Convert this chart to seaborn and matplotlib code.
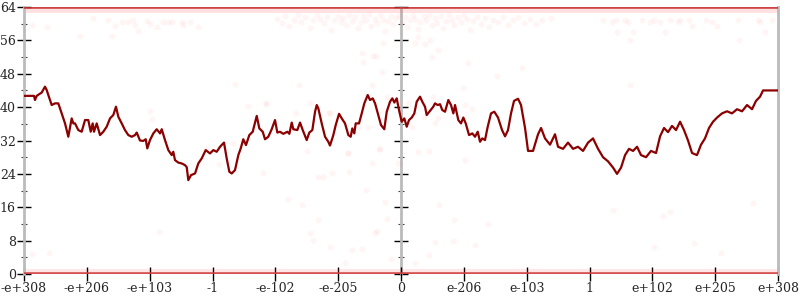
import matplotlib
matplotlib.use("Agg")
import matplotlib.pyplot as plt
import seaborn as sns
import pandas as pd
import numpy as np

sns.set_theme(style="white")
plt.rcParams["font.family"] = ["DejaVu Serif"]

# ---------------- data ----------------
tick_labels = ["-e+308", "-e+206", "-e+103", "-1", "-e-102", "-e-205", "0",
               "e-206", "e-103", "1", "e+102", "e+205", "e+308"]
y_major = [0, 8, 16, 24, 32, 40, 48, 56, 64]
y_minor = [4, 12, 20, 28, 36, 44, 52, 60]

line_x = [0.0, 0.159, 0.175, 0.202, 0.282, 0.334, 0.361, 0.387, 0.441, 0.493, 0.546, 0.600,
          0.653, 0.705, 0.759, 0.785, 0.812, 0.864, 0.918, 0.971, 1.023, 1.062, 1.093, 1.114,
          1.157, 1.210, 1.262, 1.316, 1.369, 1.421, 1.464, 1.501, 1.555, 1.607, 1.660, 1.714,
          1.767, 1.794, 1.846, 1.899, 1.937, 1.962, 2.005, 2.058, 2.112, 2.165, 2.192, 2.244,
          2.297, 2.351, 2.376, 2.403, 2.456, 2.510, 2.562, 2.590, 2.615, 2.658, 2.722, 2.774,
          2.828, 2.892, 2.960, 3.013, 3.067, 3.120, 3.183, 3.226, 3.268, 3.306, 3.358, 3.411,
          3.449, 3.490, 3.533, 3.586, 3.640, 3.704, 3.745, 3.799, 3.836, 3.888, 3.942, 3.995,
          4.032, 4.074, 4.127, 4.191, 4.223, 4.261, 4.286, 4.350, 4.393, 4.436, 4.499, 4.541,
          4.589, 4.632, 4.659, 4.684, 4.738, 4.791, 4.843, 4.870, 4.923, 4.961, 5.014, 5.057,
          5.109, 5.162, 5.200, 5.225, 5.257, 5.279, 5.332, 5.375, 5.416, 5.470, 5.507, 5.550,
          5.587, 5.639, 5.682, 5.734, 5.773, 5.825, 5.862, 5.894, 5.932, 5.968, 6.011, 6.053,
          6.091, 6.128, 6.171, 6.212, 6.250, 6.303, 6.339, 6.382, 6.409, 6.462, 6.514, 6.541,
          6.584, 6.621, 6.657, 6.701, 6.753, 6.796, 6.833, 6.860, 6.912, 6.955, 6.992, 7.030,
          7.083, 7.135, 7.178, 7.221, 7.258, 7.294, 7.337, 7.380, 7.433, 7.485, 7.544, 7.608,
          7.656, 7.703, 7.751, 7.799, 7.863, 7.910, 7.974, 8.022, 8.101, 8.181, 8.229, 8.292,
          8.372, 8.451, 8.499, 8.579, 8.658, 8.738, 8.817, 8.897, 8.977, 9.056, 9.136, 9.215,
          9.295, 9.375, 9.438, 9.502, 9.566, 9.629, 9.693, 9.757, 9.820, 9.900, 9.979, 10.059,
          10.123, 10.186, 10.250, 10.313, 10.377, 10.441, 10.504, 10.568, 10.632, 10.711,
          10.775, 10.838, 10.902, 10.966, 11.030, 11.109, 11.189, 11.268, 11.348, 11.428,
          11.507, 11.587, 11.650, 11.714, 11.762, 11.873, 12.0]
line_y = [42.7, 42.7, 41.7, 42.7, 43.5, 44.9, 44.1, 42.9, 40.5, 40.9, 40.9, 38.5,
          36.1, 32.9, 37.3, 36.1, 36.1, 34.5, 34.1, 36.9, 36.9, 34.1, 36.1, 34.1,
          36.1, 33.3, 34.1, 35.3, 37.3, 38.1, 40.1, 37.7, 36.1, 34.5, 33.3, 32.9,
          33.3, 33.9, 32.0, 31.9, 32.3, 30.1, 32.1, 33.7, 34.7, 33.7, 34.7, 32.1,
          29.7, 28.5, 29.3, 27.3, 26.7, 26.5, 26.1, 25.6, 22.5, 23.7, 24.1, 26.5,
          27.7, 29.7, 28.9, 29.7, 29.3, 30.5, 31.5, 27.7, 24.5, 24.1, 24.9, 28.5,
          30.1, 32.3, 30.9, 33.3, 34.1, 37.9, 34.9, 34.1, 32.3, 32.9, 34.7, 36.9,
          33.9, 34.1, 33.6, 34.1, 33.6, 36.3, 34.7, 34.5, 36.3, 34.5, 32.1, 33.9,
          34.5, 38.9, 40.5, 39.7, 36.1, 32.9, 31.7, 30.8, 33.3, 35.7, 38.4, 37.3,
          36.1, 33.3, 32.9, 34.9, 33.7, 36.1, 36.1, 38.5, 40.9, 42.9, 41.7, 42.1,
          40.9, 38.1, 35.7, 34.7, 38.9, 41.3, 42.1, 41.1, 42.1, 39.3, 36.5, 37.3,
          35.3, 36.9, 37.5, 38.5, 41.3, 42.5, 41.3, 40.1, 38.1, 39.1, 40.1, 40.9,
          40.5, 40.7, 39.3, 38.9, 41.7, 40.5, 38.5, 40.5, 36.9, 36.1, 37.5, 36.1,
          33.3, 33.7, 32.9, 34.1, 31.7, 32.5, 32.1, 35.3, 38.5, 38.9, 37.5, 34.5,
          33.0, 34.5, 38.5, 41.5, 42.0, 40.5, 35.0, 29.5, 29.5, 33.5, 35.0, 32.5,
          31.0, 33.5, 30.5, 30.0, 31.5, 30.0, 30.5, 29.5, 31.5, 32.5, 30.0, 28.0,
          27.0, 25.5, 24.0, 25.5, 28.5, 30.0, 29.5, 30.5, 28.5, 28.0, 29.5, 29.0,
          33.0, 35.0, 34.0, 35.5, 34.5, 36.5, 34.5, 32.0, 29.0, 28.5,
          31.0, 32.5, 35.0, 36.5, 37.5, 38.5, 39.0, 38.5, 39.5, 39.0,
          40.5, 39.5, 41.5, 42.5, 44.0, 44.0, 44.0]

# faint sample points
pts_x = [0.127, 0.366, 0.891, 1.098, 1.337, 1.401, 1.448, 1.560, 1.655, 1.735, 1.767, 1.814,
         1.958, 2.005, 2.117, 2.212, 2.292, 2.356, 2.515, 2.531, 2.642, 2.769,
         9.215, 9.358, 9.422, 9.438, 9.566, 9.613, 9.645, 9.693, 9.836, 9.963, 10.027, 10.123,
         10.202, 10.282, 10.409, 10.441, 10.584, 10.632, 10.855, 10.950, 11.030, 11.364,
         11.380, 11.683, 11.714, 11.794, 11.905, 9.645,
         4.02, 4.10, 4.15, 4.22, 4.30, 4.36, 4.41, 4.48, 4.55, 4.60, 4.66, 4.71, 4.77, 4.83,
         4.88, 4.93, 4.99, 5.04, 5.08, 5.13, 5.18, 5.22, 5.27, 5.31, 5.36, 5.40, 5.45, 5.49,
         5.53, 5.58, 5.62, 5.66, 5.71, 5.75, 5.79, 5.84, 5.88, 5.92, 5.97, 6.02, 6.06, 6.10,
         6.14, 6.19, 6.23, 6.27, 6.31, 6.36, 6.40, 6.45, 6.49, 6.54, 6.58, 6.63, 6.67, 6.72,
         6.76, 6.81, 6.85, 6.90, 6.95, 7.00, 7.05, 7.10, 7.15, 7.21, 7.27, 7.33, 7.40, 7.47,
         7.55, 7.62, 7.70, 7.78, 7.86, 7.95, 8.05, 8.15, 8.25, 8.38,
         5.375, 5.401, 5.559, 5.602, 5.719, 5.703, 6.223, 6.382, 6.462, 6.594, 6.489, 7.071,
         7.523, 7.921, 6.276,
         3.560, 3.847, 3.331, 3.109, 2.897, 4.324, 4.499, 4.870, 4.897, 4.684, 4.754, 5.162,
         5.173, 5.438, 5.534, 5.655, 5.337, 4.197, 3.809,
         4.420, 4.684, 4.552, 4.605, 4.870, 5.215, 5.375, 5.109, 5.587, 5.623, 5.773, 5.836,
         6.223, 6.541, 6.833, 6.844, 7.178, 7.390, 6.451, 6.610, 5.746,
         0.122, 0.398, 2.154, 9.369, 10.165, 10.282, 10.027, 10.669, 11.094, 11.597,
         2.005, 2.032, 3.358, 4.382, 3.852, 4.552, 4.854, 5.544, 5.773, 5.480, 5.152, 5.666,
         6.992, 6.505, 6.117, 7.019, 7.135, 6.584, 6.541, 6.371, 6.171, 6.276, 6.451, 7.019,
         5.957]
pts_y = [59.7, 59.2, 57.0, 61.4, 60.9, 57.0, 59.4, 60.4, 60.4, 60.9, 59.7, 58.2,
         60.7, 60.0, 59.2, 60.4, 60.4, 60.4, 60.4, 59.7, 60.4, 59.2,
         61.0, 60.5, 61.0, 58.0, 61.0, 60.5, 56.0, 58.0, 61.0, 60.5, 61.0, 60.5,
         58.0, 61.0, 60.5, 61.0, 61.0, 59.5, 61.0, 60.5, 59.5, 61.0,
         56.0, 61.0, 60.5, 58.0, 61.0, 45.3,
         61.2, 60.1, 61.8, 59.4, 61.0, 62.1, 60.5, 61.5, 59.0, 60.8, 62.0, 61.1, 60.2, 61.7,
         58.6, 60.9, 61.9, 60.4, 61.3, 59.7, 62.2, 60.7, 61.6, 58.9, 60.3, 61.9, 60.9, 62.3,
         59.5, 61.2, 60.1, 62.0, 61.0, 58.3, 60.6, 61.8, 59.9, 61.4, 62.2, 60.5, 61.7, 59.2,
         60.9, 62.1, 61.2, 58.7, 60.3, 61.9, 60.8, 62.0, 59.6, 61.3, 60.2, 61.8, 58.9, 60.7,
         62.1, 61.0, 59.8, 61.5, 60.4, 62.0, 61.1, 58.5, 60.6, 61.7, 60.0, 61.4, 59.3, 61.0,
         60.3, 61.6, 59.7, 60.9, 61.5, 60.2, 61.1, 59.9, 60.8, 61.3,
         52.9, 50.9, 52.3, 52.3, 55.3, 48.5, 55.3, 55.1, 56.1, 53.7, 52.1, 50.5,
         47.5, 49.3, 56.9,
         40.3, 40.9, 31.5, 26.3, 30.1, 38.7, 29.6, 38.5, 24.3, 23.3, 23.2, 28.9,
         24.5, 20.1, 26.5, 29.9, 35.3, 18.0, 24.1,
         16.5, 12.9, 9.8, 8.1, 6.5, 5.8, 5.9, 2.7, 9.8, 10.4, 13.3, 3.5,
         2.6, 7.7, 7.9, 12.9, 6.9, 12.1, 4.6, 16.5, 17.3,
         4.8, 5.1, 10.1, 15.3, 14.0, 14.9, 6.5, 7.5, 5.1, 17.1,
         39.1, 37.1, 45.5, 45.3, 40.7, 40.9, 38.5, 45.3, 42.4, 35.3, 28.9, 29.9,
         44.5, 42.5, 41.1, 40.5, 39.5, 37.3, 36.1, 37.6, 35.3, 29.3, 29.5, 27.3,
         26.7]

# dense bands of samples at the extremes (drawn as continuous strips)
band_x = [0.0, 12.0]
band_top_y = [64.0, 64.0]
band_top_haze_y = [63.3, 63.3]
band_bot_y = [0.0, 0.0]
band_bot_haze_y = [0.8, 0.8]

# ---------------- figure ----------------
fig = plt.figure(figsize=(8, 3), dpi=100)
ax = fig.add_axes([24 / 800, 1 - 274 / 300, (778 - 24) / 800, (274 - 7) / 300])

pts = pd.DataFrame({"x": pts_x, "y": pts_y})
sns.scatterplot(data=pts, x="x", y="y", ax=ax, color="#ff2020", alpha=0.045,
                s=18, linewidth=0, zorder=2)

sns.lineplot(x=band_x, y=band_top_haze_y, ax=ax, color="#ff3030", alpha=0.14, lw=3.5, zorder=2)
sns.lineplot(x=band_x, y=band_top_y, ax=ax, color="#c83030", alpha=0.9, lw=2.6, zorder=3)
sns.lineplot(x=band_x, y=band_bot_haze_y, ax=ax, color="#ff3030", alpha=0.12, lw=3.5, zorder=2)
sns.lineplot(x=band_x, y=band_bot_y, ax=ax, color="#d04040", alpha=0.9, lw=2.6, zorder=3)

line = pd.DataFrame({"x": line_x, "y": line_y})
sns.lineplot(data=line, x="x", y="y", ax=ax, color="#8b0000", lw=1.6, zorder=5,
             estimator=None, sort=False)

ax.set_xlim(0, 12)
ax.set_ylim(0, 64)
ax.set_xlabel("")
ax.set_ylabel("")
ax.set_xticks(range(13))
ax.set_xticklabels(tick_labels)
ax.set_yticks(y_major)
ax.set_yticks(y_minor, minor=True)

spine_col = "#bbbbbb"
for s in ["top", "bottom"]:
    ax.spines[s].set_visible(False)
for s in ["left", "right"]:
    ax.spines[s].set_color(spine_col)
    ax.spines[s].set_linewidth(2)

ax.tick_params(axis="y", which="major", direction="inout", length=10, width=1,
               color="black", left=True, right=True, labelright=False, labelsize=9, pad=1)
ax.tick_params(axis="y", which="minor", direction="inout", length=5, width=0.8,
               color="#444444", left=True, right=True)
ax.tick_params(axis="x", which="major", direction="inout", length=10, width=1,
               color="black", bottom=True, labelsize=9, pad=1)

# middle vertical axis at zero
ax2 = ax.twinx()
ax2.set_ylim(0, 64)
for s in ["top", "bottom", "left"]:
    ax2.spines[s].set_visible(False)
ax2.spines["right"].set_position(("data", 6))
ax2.spines["right"].set_color(spine_col)
ax2.spines["right"].set_linewidth(2)
ax2.set_yticks(y_major)
ax2.set_yticks(y_minor, minor=True)
ax2.tick_params(axis="y", which="major", direction="inout", length=10, width=1,
                color="black", right=True, labelright=False)
ax2.tick_params(axis="y", which="minor", direction="inout", length=5, width=0.8,
                color="#444444", right=True)
ax2.grid(False)
ax2.set_zorder(0)
ax.set_zorder(1)
ax.patch.set_visible(False)

fig.savefig("out.png", dpi=100)
